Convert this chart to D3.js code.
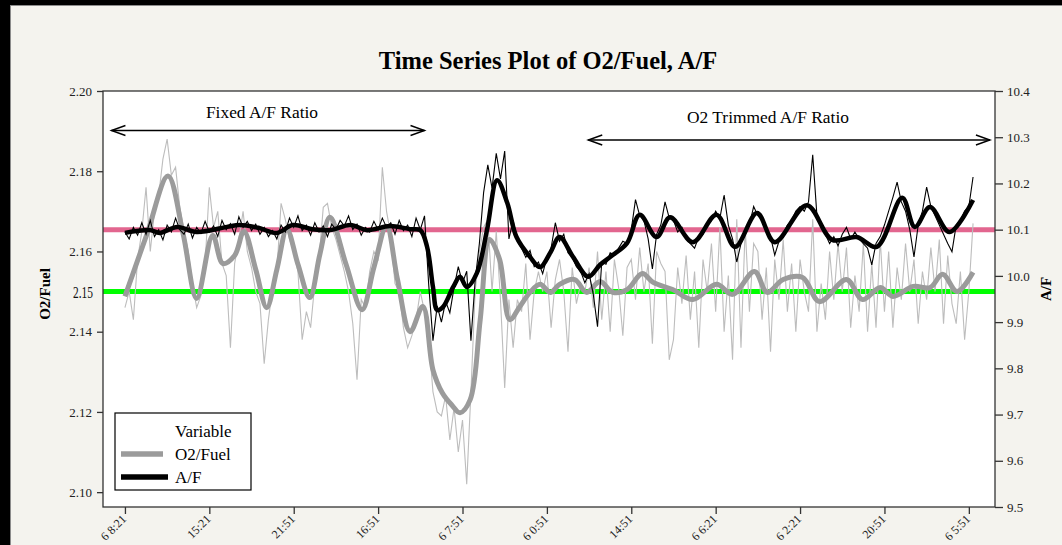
<!DOCTYPE html>
<html><head><meta charset="utf-8">
<script src="https://cdn.jsdelivr.net/npm/d3@7"></script>
<style>body{margin:0;background:#000}svg{display:block}</style>
</head><body>
<svg id="c" width="1062" height="545"></svg>
<script>
// ---- data ----
const xTickLabels = ["6 8:21","15:21","21:51","16:51","6 7:51","6 0:51","14:51","6 6:21","6 2:21","20:51","6 5:51"];
const o2Ticks = [2.10,2.12,2.14,2.16,2.18,2.20];
const afTicks = [9.5,9.6,9.7,9.8,9.9,10.0,10.1,10.2,10.3,10.4];
const rawStep = 0.05; // observations per tick interval = 20
const o2Raw = [
2.146,2.150,2.143,2.158,2.165,2.176,2.160,2.170,2.174,2.183,
2.188,2.179,2.181,2.171,2.165,2.160,2.152,2.146,2.149,2.157,
2.176,2.166,2.170,2.157,2.154,2.136,2.157,2.163,2.170,2.160,
2.156,2.150,2.147,2.132,2.143,2.151,2.155,2.172,2.168,2.163,
2.160,2.155,2.138,2.145,2.141,2.152,2.158,2.171,2.172,2.166,
2.163,2.159,2.155,2.150,2.142,2.128,2.148,2.146,2.155,2.160,
2.158,2.181,2.170,2.164,2.152,2.150,2.141,2.136,2.139,2.143,
2.150,2.145,2.138,2.125,2.120,2.119,2.124,2.113,2.121,2.110,
2.118,2.102,2.125,2.150,2.160,2.166,2.168,2.150,2.165,2.148,
2.126,2.148,2.136,2.148,2.145,2.157,2.138,2.150,2.155,2.150,
2.155,2.141,2.153,2.158,2.150,2.135,2.156,2.147,2.152,2.150,
2.156,2.146,2.160,2.143,2.155,2.140,2.158,2.151,2.139,2.156,
2.158,2.148,2.161,2.150,2.157,2.137,2.160,2.157,2.155,2.133,
2.138,2.156,2.147,2.159,2.143,2.155,2.136,2.158,2.150,2.162,
2.145,2.166,2.140,2.154,2.133,2.168,2.136,2.166,2.145,2.162,
2.160,2.143,2.156,2.135,2.158,2.148,2.163,2.145,2.157,2.140,
2.158,2.150,2.145,2.168,2.140,2.152,2.143,2.160,2.148,2.162,
2.150,2.161,2.141,2.154,2.145,2.162,2.140,2.157,2.141,2.163,
2.145,2.160,2.141,2.156,2.148,2.162,2.150,2.158,2.142,2.155,
2.148,2.161,2.150,2.163,2.142,2.159,2.147,2.142,2.155,2.138,
2.150,2.167];
const afRaw = [
10.095,10.080,10.105,10.088,10.115,10.090,10.120,10.085,10.100,10.078,
10.110,10.095,10.125,10.100,10.090,10.112,10.082,10.105,10.092,10.118,
10.095,10.108,10.085,10.120,10.100,10.113,10.090,10.128,10.105,10.118,
10.098,10.112,10.090,10.105,10.085,10.098,10.080,10.110,10.095,10.125,
10.105,10.130,10.098,10.110,10.088,10.115,10.095,10.108,10.085,10.112,
10.100,10.120,10.108,10.130,10.100,10.112,10.088,10.105,10.095,10.118,
10.100,10.125,10.105,10.115,10.090,10.120,10.098,10.110,10.085,10.125,
10.100,10.130,9.980,9.860,9.935,9.900,9.945,9.920,9.975,10.020,
9.985,10.010,9.860,9.990,10.070,10.180,10.240,10.190,10.265,10.210,
10.270,10.080,10.120,10.075,10.060,10.040,10.055,10.020,10.030,10.005,
10.040,10.060,10.115,10.075,10.090,10.050,10.040,10.020,10.010,9.985,
10.005,9.960,9.890,10.030,10.025,10.050,10.045,10.060,10.075,10.070,
10.100,10.165,10.130,10.120,10.080,10.015,10.090,10.110,10.160,10.125,
10.120,10.095,10.105,10.080,10.070,10.060,10.085,10.090,10.110,10.120,
10.140,10.125,10.175,10.110,10.080,10.030,10.070,10.095,10.110,10.150,
10.130,10.120,10.100,10.085,10.045,10.075,10.090,10.110,10.120,10.140,
10.150,10.140,10.160,10.262,10.130,10.110,10.090,10.070,10.085,10.065,
10.090,10.105,10.080,10.095,10.080,10.070,10.060,10.024,10.070,10.085,
10.110,10.140,10.170,10.203,10.160,10.140,10.100,10.041,10.110,10.140,
10.192,10.150,10.130,10.110,10.090,10.070,10.052,10.110,10.120,10.140,
10.150,10.214];
const o2SmoothT = [0,0.26,0.51,0.69,0.85,1.04,1.16,1.30,1.41,1.55,1.68,1.80,1.92,2.05,2.19,2.31,2.43,2.62,2.81,2.95,3.10,3.23,3.38,3.53,3.65,3.76,3.87,3.97,4.09,4.21,4.32,4.44,4.56,4.68,4.80,4.92,5.04,5.15,5.33,5.47,5.63,5.78,5.95,6.13,6.26,6.49,6.73,7.01,7.20,7.46,7.61,7.80,8.03,8.23,8.55,8.74,8.95,9.10,9.34,9.54,9.69,9.86,10.05];
const o2SmoothV = [2.1488,2.1643,2.1788,2.1643,2.1483,2.1640,2.1570,2.1590,2.1650,2.1555,2.1460,2.1555,2.1655,2.1568,2.1485,2.1593,2.1685,2.1568,2.1455,2.1560,2.1663,2.1530,2.1400,2.1463,2.1305,2.1248,2.1218,2.1198,2.1230,2.1430,2.1630,2.1580,2.1430,2.1463,2.1498,2.1518,2.1498,2.1518,2.1530,2.1498,2.1525,2.1498,2.1505,2.1545,2.1523,2.1505,2.1480,2.1518,2.1493,2.1550,2.1498,2.1530,2.1535,2.1475,2.1530,2.1480,2.1510,2.1488,2.1513,2.1510,2.1543,2.1500,2.1548];
const afSmoothT = [0,0.30,0.41,0.62,0.85,1.21,1.36,1.58,1.80,1.99,2.22,2.43,2.67,2.87,3.14,3.38,3.50,3.58,3.65,3.70,3.77,3.89,3.97,4.05,4.17,4.29,4.41,4.53,4.64,4.80,4.92,5.04,5.15,5.31,5.49,5.63,5.78,5.95,6.10,6.30,6.46,6.73,7.01,7.23,7.49,7.70,8.08,8.38,8.67,8.91,9.21,9.36,9.54,9.77,10.05];
const afSmoothV = [10.093,10.099,10.093,10.106,10.095,10.106,10.110,10.104,10.093,10.110,10.101,10.099,10.110,10.099,10.108,10.101,10.099,10.063,9.976,9.926,9.933,9.976,9.998,9.976,10.006,10.099,10.207,10.158,10.084,10.041,10.019,10.050,10.084,10.041,9.998,10.024,10.045,10.071,10.132,10.084,10.127,10.073,10.132,10.063,10.136,10.073,10.153,10.078,10.084,10.063,10.169,10.106,10.149,10.095,10.164];
const o2Target = 2.15;
const afTarget = 10.1;
const legendNames = ["O2/Fuel","A/F"];

// ---- drawing ----
const W = 1062, H = 545;
const FONT = "'Liberation Serif','Times New Roman',serif";
const svg = d3.select("#c");
svg.append("rect").attr("width", W).attr("height", H).attr("fill", "#000");
svg.append("rect").attr("x", 10.5).attr("y", 5.5).attr("width", W - 10).attr("height", H)
  .attr("fill", "#f4f3ee").attr("stroke", "#8c8c8c");

const L = 103, R = 995, T = 91, B = 507;
const x = d3.scaleLinear().domain([-0.26, 10.31]).range([L, R]);
const yL = d3.scaleLinear().domain([2.0963, 2.20]).range([B, T]);
const yR = d3.scaleLinear().domain([9.5, 10.4]).range([B, T]);

svg.append("rect").attr("x", L).attr("y", T).attr("width", R - L).attr("height", B - T).attr("fill", "#fff");

// reference lines
svg.append("line").attr("x1", L).attr("x2", R).attr("y1", yR(afTarget)).attr("y2", yR(afTarget))
  .attr("stroke", "#e2668f").attr("stroke-width", 5);
svg.append("line").attr("x1", L).attr("x2", R).attr("y1", yL(o2Target)).attr("y2", yL(o2Target))
  .attr("stroke", "#00ff00").attr("stroke-width", 5);

// series
const o2RawPts = o2Raw.map((v, i) => [i * rawStep, v]);
const afRawPts = afRaw.map((v, i) => [i * rawStep, v]);
const o2SmPts = o2SmoothT.map((t, i) => [t, o2SmoothV[i]]);
const afSmPts = afSmoothT.map((t, i) => [t, afSmoothV[i]]);
const lineL = d3.line().x(d => x(d[0])).y(d => yL(d[1]));
const lineR = d3.line().x(d => x(d[0])).y(d => yR(d[1]));
const smL = d3.line().x(d => x(d[0])).y(d => yL(d[1])).curve(d3.curveCatmullRom.alpha(0.5));
const smR = d3.line().x(d => x(d[0])).y(d => yR(d[1])).curve(d3.curveCatmullRom.alpha(0.5));

svg.append("path").attr("d", lineL(o2RawPts)).attr("fill", "none").attr("stroke", "#bdbdbd").attr("stroke-width", 1.1);
svg.append("path").attr("d", smL(o2SmPts)).attr("fill", "none").attr("stroke", "#9b9b9b").attr("stroke-width", 5).attr("stroke-linejoin", "round");
svg.append("path").attr("d", lineR(afRawPts)).attr("fill", "none").attr("stroke", "#000").attr("stroke-width", 1.1);
svg.append("path").attr("d", smR(afSmPts)).attr("fill", "none").attr("stroke", "#000").attr("stroke-width", 4.5).attr("stroke-linejoin", "round");

// frame
svg.append("rect").attr("x", L).attr("y", T).attr("width", R - L).attr("height", B - T)
  .attr("fill", "none").attr("stroke", "#333").attr("stroke-width", 1.3);

// axes
function styleAxis(g) {
  g.select(".domain").remove();
  g.selectAll(".tick line").attr("stroke", "#333").attr("stroke-width", 1.3);
  g.selectAll(".tick text").attr("fill", "#222").style("font-family", FONT).style("font-size", "13px");
}
svg.append("g").attr("transform", `translate(${L},0)`)
  .call(d3.axisLeft(yL).tickValues(o2Ticks).tickSize(6).tickPadding(5).tickFormat(d3.format(".2f")))
  .call(styleAxis);
svg.append("g").attr("transform", `translate(${R},0)`)
  .call(d3.axisRight(yR).tickValues(afTicks).tickSize(8).tickPadding(4).tickFormat(d3.format(".1f")))
  .call(styleAxis);
const gx = svg.append("g").attr("transform", `translate(0,${B})`)
  .call(d3.axisBottom(x).tickValues(d3.range(xTickLabels.length)).tickSize(7).tickFormat((d, i) => xTickLabels[i]))
  .call(styleAxis);
gx.selectAll(".tick text").style("font-size", "12px").attr("text-anchor", "end").attr("x", -8).attr("y", 6).attr("dy", "0.35em")
  .attr("transform", "rotate(-45)");

// special 2.15 label
svg.append("text").attr("x", L - 10).attr("y", yL(o2Target)).attr("dy", "0.35em").attr("text-anchor", "end")
  .attr("textLength", 20).attr("lengthAdjust", "spacingAndGlyphs")
  .style("font-family", FONT).style("font-size", "17px").attr("fill", "#111").text("2.15");

// titles
svg.append("text").attr("x", 548).attr("y", 69).attr("text-anchor", "middle")
  .style("font-family", FONT).style("font-size", "24.5px").style("font-weight", "bold").text("Time Series Plot of O2/Fuel, A/F");
svg.append("text").attr("transform", `translate(50,294) rotate(-90)`).attr("text-anchor", "middle")
  .style("font-family", FONT).style("font-size", "15px").style("font-weight", "bold").text("O2/Fuel");
svg.append("text").attr("transform", `translate(1051,289) rotate(-90)`).attr("text-anchor", "middle")
  .style("font-family", FONT).style("font-size", "15px").style("font-weight", "bold").text("A/F");

// annotations
function dblArrow(x1, x2, yy) {
  const g = svg.append("g").attr("stroke", "#000").attr("stroke-width", 1.4).attr("fill", "none");
  g.append("line").attr("x1", x1).attr("x2", x2).attr("y1", yy).attr("y2", yy);
  g.append("polyline").attr("points", `${x1 + 14},${yy - 5} ${x1},${yy} ${x1 + 14},${yy + 5}`);
  g.append("polyline").attr("points", `${x2 - 14},${yy - 5} ${x2},${yy} ${x2 - 14},${yy + 5}`);
}
dblArrow(x(-0.16), x(3.55), 130.5);
dblArrow(x(5.49), x(10.25), 140);
svg.append("text").attr("x", 262).attr("y", 118).attr("text-anchor", "middle")
  .style("font-family", FONT).style("font-size", "17.4px").text("Fixed A/F Ratio");
svg.append("text").attr("x", 768).attr("y", 123).attr("text-anchor", "middle")
  .style("font-family", FONT).style("font-size", "17.4px").text("O2 Trimmed A/F Ratio");

// legend
const lg = svg.append("g");
lg.append("rect").attr("x", 115).attr("y", 413).attr("width", 136).attr("height", 77)
  .attr("fill", "#fff").attr("stroke", "#000").attr("stroke-width", 1.2);
lg.append("text").attr("x", 175).attr("y", 437).style("font-family", FONT).style("font-size", "17px").text("Variable");
const legColors = ["#9b9b9b", "#000"];
const legX2 = [163, 168];
legendNames.forEach((n, i) => {
  const yy = 454 + i * 23;
  lg.append("line").attr("x1", 121).attr("x2", legX2[i]).attr("y1", yy).attr("y2", yy)
    .attr("stroke", legColors[i]).attr("stroke-width", 5.5);
  lg.append("text").attr("x", 175).attr("y", yy + 6).style("font-family", FONT).style("font-size", "17px").text(n);
});
</script>
</body></html>
